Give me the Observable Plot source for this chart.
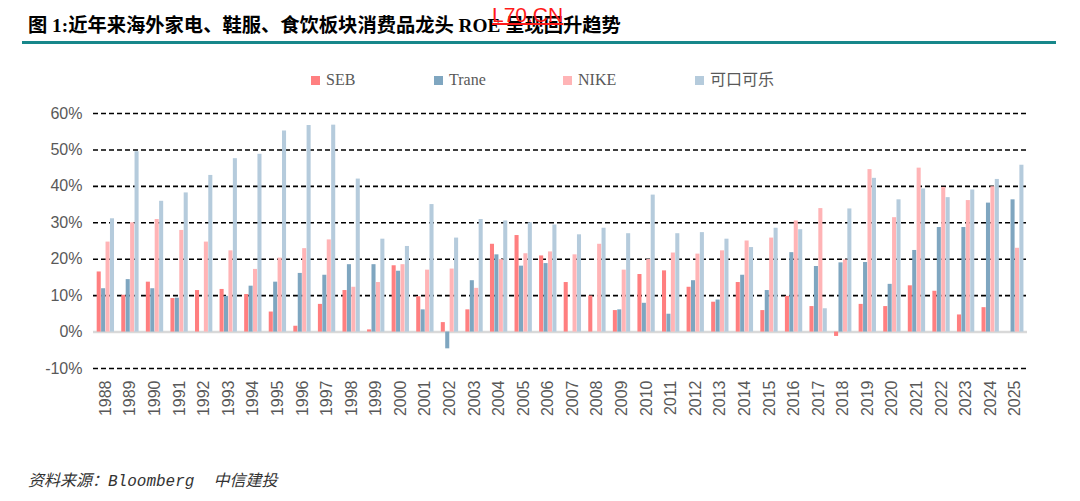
<!DOCTYPE html>
<html>
<head>
<meta charset="utf-8">
<script src="https://cdn.jsdelivr.net/npm/d3@7"></script>
<script src="https://cdn.jsdelivr.net/npm/@observablehq/plot@0.6"></script>
<style>
  body { margin:0; width:1080px; height:501px; position:relative; background:#fff; overflow:hidden; }
  #title { position:absolute; left:28px; top:10px; font-family:"Liberation Serif","Noto Sans CJK SC",serif; font-weight:bold; font-size:19.3px; color:#000; white-space:nowrap; }
  #wm { position:absolute; left:492px; top:3px; font-family:"Liberation Sans",Arial,sans-serif; font-size:21px; color:#ff1a1a; text-decoration:underline; text-decoration-thickness:1.5px; text-underline-offset:1px; white-space:nowrap; }
  #rule { position:absolute; left:22px; top:41px; width:1034px; height:3px; background:#17878a; }
  .leg { position:absolute; top:71px; height:18px; line-height:18px; font-family:"Liberation Serif","Noto Sans CJK SC",serif; font-size:16px; color:#595959; white-space:nowrap; display:flex; align-items:center; }
  .leg span.sw { display:inline-block; width:9px; height:9px; margin-right:6px; }
  .leg span.tx { display:inline-block; height:18px; line-height:18px; }
  #chart { position:absolute; left:0; top:90px; }
  #caption { position:absolute; left:28px; top:467px; font-family:"Liberation Mono","Noto Sans CJK SC",monospace; font-style:italic; font-size:16px; color:#333; white-space:pre; }
</style>
</head>
<body>
<div id="title">图 1:近年来海外家电、鞋服、食饮板块消费品龙头 ROE 呈现回升趋势</div>
<div id="wm">L70.CN</div>
<div id="rule"></div>
<div id="legend"></div>
<div id="chart"></div>
<div id="caption">资料来源：Bloomberg  中信建投</div>
<script>
const years = d3.range(1988, 2026);
const seriesNames = ["SEB", "Trane", "NIKE", "可口可乐"];
const seriesColors = ["#ff7f80", "#7fa6c0", "#ffb4b6", "#b5cbdc"];
const legendX = [311, 434, 563, 695];

const seb = [16.5,10.1,13.7,9.2,11.4,11.7,10.3,5.5,1.6,7.6,
             11.4,0.6,18.2,9.7,2.6,6.1,24.1,26.5,20.9,13.6,
             9.9,5.9,15.8,16.8,12.3,8.2,13.6,5.9,9.8,7.0,
             -1.2,7.6,7.0,12.7,11.2,4.7,6.7,null];
const trane = [11.9,14.4,11.9,9.3,null,9.8,12.6,13.7,16.1,15.6,
               18.5,18.5,16.7,6.1,-4.6,14.1,21.2,18.1,18.8,null,
               null,6.1,7.9,4.9,14.1,8.8,15.6,11.4,21.8,18.0,
               19.0,19.1,13.1,22.4,28.7,28.7,35.4,36.3];
const nike = [24.7,30.0,30.9,27.9,24.7,22.3,17.2,20.3,22.9,25.3,
              12.3,13.6,18.5,17.0,17.3,12.0,19.9,21.5,22.0,21.2,
              24.1,17.0,19.9,21.7,21.4,22.3,25.0,25.8,30.5,33.9,
              19.8,44.6,31.4,45.0,39.7,36.1,39.9,23.0];
const coke = [31.1,49.5,35.9,38.2,43.0,47.6,48.8,55.2,56.7,56.8,
              42.0,25.5,23.5,35.0,25.8,30.9,30.5,30.0,29.4,26.7,
              28.5,27.0,37.6,27.0,27.3,25.5,23.2,28.5,28.1,6.4,
              33.8,42.2,36.3,39.3,36.9,39.0,41.9,45.8];
const yTicks = [-10, 0, 10, 20, 30, 40, 50, 60];

// legend
const leg = document.getElementById("legend");
seriesNames.forEach((n, i) => {
  const d = document.createElement("div");
  d.className = "leg";
  d.style.left = legendX[i] + "px";
  d.innerHTML = `<span class="sw" style="background:${seriesColors[i]}"></span><span class="tx">${n}</span>`;
  leg.appendChild(d);
});

const all = [seb, trane, nike, coke];
const rows = [];
all.forEach((arr, si) => arr.forEach((v, yi) => {
  if (v != null) rows.push({year: years[yi], series: seriesNames[si], si, value: v});
}));

const start = -0.35, step = 0.18, bw = 0.165;

const chart = Plot.plot({
  width: 1080,
  height: 350,
  marginLeft: 93,
  marginRight: 53,
  marginTop: 23,
  marginBottom: 72,
  style: {fontFamily: "Liberation Sans, Arial, sans-serif", fontSize: "16px", color: "#595959", background: "transparent"},
  x: {domain: [1987.5, 2025.5], ticks: years, tickFormat: d => String(d), tickRotate: -90, tickSize: 0, tickPadding: 12, label: null},
  y: {domain: [-10, 60], ticks: yTicks, tickFormat: d => d + "%", tickSize: 0, tickPadding: 11, label: null},
  color: {domain: seriesNames, range: seriesColors},
  marks: [
    Plot.ruleY(yTicks.filter(d => d !== 0), {stroke: "#000", strokeWidth: 1.6, strokeDasharray: "5,3"}),
    Plot.ruleY([0], {stroke: "#d9d9d9", strokeWidth: 2.5}),
    Plot.rectY(rows, {
      x1: d => d.year + start + d.si * step,
      x2: d => d.year + start + d.si * step + bw,
      y1: 0,
      y2: "value",
      fill: "series"
    })
  ]
});
document.getElementById("chart").appendChild(chart);
</script>
</body>
</html>
